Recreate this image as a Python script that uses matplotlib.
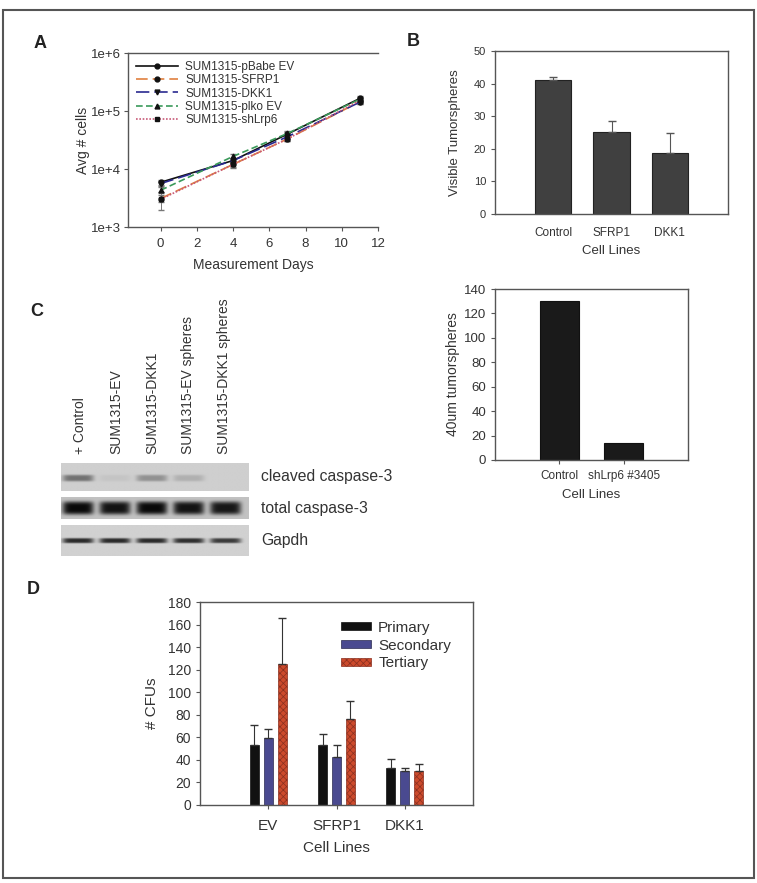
import numpy as np
import matplotlib
matplotlib.use("Agg")
import matplotlib.pyplot as plt
from matplotlib.patches import Rectangle
from matplotlib.lines import Line2D
from matplotlib.ticker import FixedLocator, FixedFormatter, NullLocator

plt.rcParams['font.family'] = ['Liberation Sans', 'DejaVu Sans']
plt.rcParams['hatch.linewidth'] = 0.5

W, H = 757, 883
GRAY = '#555555'
TXT = '#333333'

# ---- panel A: growth curves ----
days = [0, 4, 7, 11]
growth_names = ['SUM1315-pBabe EV', 'SUM1315-SFRP1', 'SUM1315-DKK1',
                'SUM1315-plko EV', 'SUM1315-shLrp6']
pbabe = [5900, 14000, 40000, 165000]
sfrp1 = [3100, 12000, 33000, 145000]
dkk1 = [5600, 14000, 36000, 142000]
plko = [4300, 16500, 41000, 160000]
shlrp6 = [3000, 12000, 33000, 152000]
pbabe_err = [500, 1500, 3000, 15000]
sfrp1_err = [400, 1200, 3000, 12000]
dkk1_err = [500, 1200, 3000, 12000]
plko_err = [500, 1500, 3500, 15000]
shlrp6_err = [1000, 1500, 3000, 15000]

# ---- panel B ----
b_cats = ['Control', 'SFRP1', 'DKK1']
b_vals = [41, 25.3, 18.7]
b_err = [1, 3.1, 6.3]

# ---- panel C bar ----
c_cats = ['Control', 'shLrp6 #3405']
c_vals = [130, 14]

# ---- panel C blot ----
lanes = ['+ Control', 'SUM1315-EV', 'SUM1315-DKK1', 'SUM1315-EV spheres',
         'SUM1315-DKK1 spheres']
cleaved = [0.45, 0.05, 0.3, 0.15, 0.0]
total = [0.95, 0.9, 0.95, 0.9, 0.88]
gapdh = [0.8, 0.8, 0.8, 0.78, 0.72]
blot_rows = ['cleaved caspase-3', 'total caspase-3', 'Gapdh']

# ---- panel D ----
d_cats = ['EV', 'SFRP1', 'DKK1']
d_series = ['Primary', 'Secondary', 'Tertiary']
primary = [53, 53, 33]
secondary = [59, 43, 30]
tertiary = [125, 76, 30]
primary_err = [18, 10, 8]
secondary_err = [8, 10, 3]
tertiary_err = [41, 16, 6.5]


def box(l, t, r, b):
    return [l / W, 1 - b / H, (r - l) / W, (b - t) / H]


def style(ax, fs):
    for s in ax.spines.values():
        s.set_color(GRAY)
        s.set_linewidth(1.0)
    ax.tick_params(colors=GRAY, labelcolor=TXT, labelsize=fs, width=0.8,
                   length=3)


fig = plt.figure(figsize=(W / 100, H / 100), dpi=100)

# outer frame
fig.patches.append(Rectangle((3 / W, 1 - 878 / H), 751 / W, 868 / H,
                             transform=fig.transFigure, fill=False,
                             edgecolor='#555555', linewidth=1.5))

# panel A
ax = fig.add_axes(box(128, 53, 378, 227))
style(ax, 9.5)
ax.spines['right'].set_visible(False)
ax.set_yscale('log')
ax.set_ylim(1e3, 1e6)
ax.set_xlim(-1.8, 12)
ax.yaxis.set_major_locator(FixedLocator([1e3, 1e4, 1e5, 1e6]))
ax.yaxis.set_major_formatter(FixedFormatter(['1e+3', '1e+4', '1e+5', '1e+6']))
ax.yaxis.set_minor_locator(NullLocator())
ax.set_xticks(range(0, 13, 2))
ax.tick_params(axis='x', pad=5)
ax.tick_params(axis='y', pad=2)
styles = [
    dict(color='#111111', ls='-', marker='o'),
    dict(color='#e08040', ls=(0, (7, 3)), marker='o'),
    dict(color='#2a2a90', ls=(0, (8, 3)), marker='v'),
    dict(color='#3a9a5a', ls=(0, (4, 2)), marker='^'),
    dict(color='#c85a78', ls=(0, (1, 1)), marker='s'),
]
handles = []
for name, ys, es, st in zip(growth_names, [pbabe, sfrp1, dkk1, plko, shlrp6],
                            [pbabe_err, sfrp1_err, dkk1_err, plko_err, shlrp6_err],
                            styles):
    ax.errorbar(days, ys, yerr=es, color=st['color'], ls=st['ls'], lw=1.2,
                marker=st['marker'], ms=3.5, mfc='#111111', mec='#111111',
                ecolor='#777777', elinewidth=0.7, capsize=2)
    handles.append(Line2D([], [], color=st['color'], ls=st['ls'], lw=1.2,
                          marker=st['marker'], ms=3.5, mfc='#111111',
                          mec='#111111', label=name))
ax.legend(handles=handles, loc='upper left', frameon=False, fontsize=8.5,
          handlelength=3.6, labelspacing=0.12, borderaxespad=0.25,
          handletextpad=0.6, labelcolor=TXT)
ax.set_xlabel('Measurement Days', fontsize=10, color=TXT, labelpad=6)
ax.set_ylabel('Avg # cells', fontsize=10, color=TXT, labelpad=1)

# panel B
ax = fig.add_axes(box(495, 51, 728, 214))
style(ax, 8)
xb = np.arange(len(b_cats))
ax.bar(xb, b_vals, width=0.62, color='#404040', edgecolor='#222222', lw=0.8,
       yerr=[[0] * 3, b_err], error_kw=dict(ecolor='#555555', elinewidth=0.8,
                                             capsize=3))
ax.set_xlim(-1, 3)
ax.set_ylim(0, 50)
ax.set_xticks(xb)
ax.set_xticklabels(b_cats)
ax.tick_params(axis='x', length=0, pad=9, labelsize=8.5)
ax.set_xlabel('Cell Lines', fontsize=9.5, color=TXT, labelpad=5)
ax.set_ylabel('Visible Tumorspheres', fontsize=9.5, color=TXT, labelpad=9)

# panel C bars
ax = fig.add_axes(box(495, 289, 688, 460))
style(ax, 9.5)
xc = np.arange(len(c_cats))
ax.bar(xc, c_vals, width=0.6, color='#1a1a1a', edgecolor='#111111', lw=0.8)
ax.set_xlim(-1, 2)
ax.set_ylim(0, 140)
ax.set_yticks(range(0, 141, 20))
ax.set_xticks(xc)
ax.set_xticklabels(c_cats)
ax.tick_params(axis='x', pad=4, labelsize=8.5)
ax.set_xlabel('Cell Lines', fontsize=9.5, color=TXT, labelpad=5)
ax.set_ylabel('40um tumorspheres', fontsize=10, color=TXT, labelpad=3)

# panel C blot
strips = [(463, 491, cleaved, 0.54, 0.12, 0.81),
          (497, 519, total, 0.5, 0.3, 0.76),
          (525, 556, gapdh, 0.52, 0.08, 0.82)]
gx = np.linspace(0.54, 5.63, 400)
gy = np.linspace(0, 1, 60)
X, Y = np.meshgrid(gx, gy)
for (t, b, vals, yc, sig, bg), label in zip(strips, blot_rows):
    bax = fig.add_axes(box(61, t, 248, b))
    img = np.full(X.shape, bg)
    for i, v in enumerate(vals):
        prof = np.exp(-((X - (i + 1)) / 0.42) ** 6) * np.exp(-((Y - yc) / sig) ** 4)
        img -= v * bg * prof
    bax.imshow(img, cmap='gray', vmin=0, vmax=1, aspect='auto',
               extent=(0.54, 5.63, 1, 0), interpolation='bilinear')
    bax.set_axis_off()
    fig.text(261 / W, 1 - (t + b) / 2 / H, label, fontsize=11.3, color=TXT,
             va='center', ha='left')
lane_x = [80, 116, 152, 188, 224]
for lx, name in zip(lane_x, lanes):
    fig.text(lx / W, 1 - 454 / H, name, rotation=90, ha='center',
             va='bottom', fontsize=10, color=TXT)

# panel D
ax = fig.add_axes(box(200, 602, 473, 805))
style(ax, 10)
xd = np.arange(len(d_cats))
off = 0.205
bw = 0.135
ax.bar(xd - off, primary, width=bw, color='#111111', edgecolor='#111111',
       lw=0.5, yerr=[[0] * 3, primary_err],
       error_kw=dict(ecolor='#333333', elinewidth=0.8, capsize=3),
       label=d_series[0])
ax.bar(xd, secondary, width=bw, color='#4a4a90', edgecolor='#2a2a50',
       lw=0.5, yerr=[[0] * 3, secondary_err],
       error_kw=dict(ecolor='#333333', elinewidth=0.8, capsize=3),
       label=d_series[1])
ax.bar(xd + off, tertiary, width=bw, color='#cc4a2c', edgecolor='#8a3020',
       lw=0.5, hatch='xxxxx', yerr=[[0] * 3, tertiary_err],
       error_kw=dict(ecolor='#333333', elinewidth=0.8, capsize=3),
       label=d_series[2])
ax.set_xlim(-1, 3)
ax.set_ylim(0, 180)
ax.set_yticks(range(0, 181, 20))
ax.set_xticks(xd)
ax.set_xticklabels(d_cats)
ax.tick_params(axis='x', pad=7, labelsize=11)
ax.legend(loc='upper left', bbox_to_anchor=(0.465, 0.975), frameon=False,
          fontsize=11, handlelength=2.0, handleheight=0.45,
          labelspacing=0.25, handletextpad=0.45, labelcolor=TXT)
ax.set_xlabel('Cell Lines', fontsize=11, color=TXT, labelpad=6)
ax.set_ylabel('# CFUs', fontsize=11, color=TXT, labelpad=6)

# panel letters
for lx, ly, s in [(40, 43, 'A'), (413, 42, 'B'), (37, 311, 'C'), (33, 590, 'D')]:
    fig.text(lx / W, 1 - ly / H, s, fontsize=13, fontweight='bold',
             color='#222222', ha='center', va='center')

fig.savefig('out.png', dpi=100)
